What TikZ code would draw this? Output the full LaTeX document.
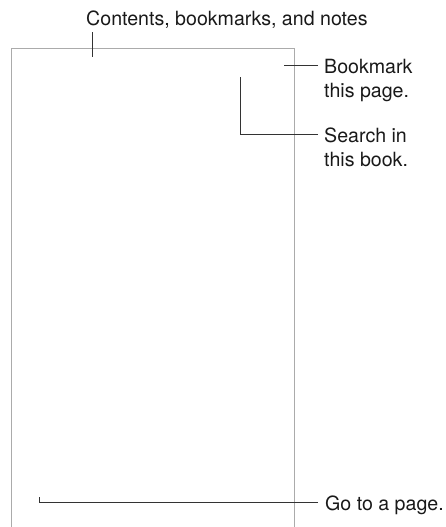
\documentclass[tikz,border=0pt]{standalone}
\usepackage{fontspec}
\setmainfont{TeX Gyre Heros}
\begin{document}
\begin{tikzpicture}[x=1pt,y=-1pt,
  frame/.style={draw=black!33, line width=1pt},
  leader/.style={draw=black!80, line width=1pt},
  lbl/.style={inner sep=0pt, anchor=base west, align=left, font=\fontsize{19.6}{24.3}\selectfont, text=black!90}]
\useasboundingbox (0,0) rectangle (446,527);
% screen frame (open at bottom)
\draw[frame] (11,527) -- (11,48.5) -- (294,48.5) -- (294,527);
% labels (base anchor = baseline of last line)
\node[lbl] (contents) at (86,26) {Contents, bookmarks, and notes};
\node[lbl] (bookmark) at (324,97.3) {Bookmark\\this page.};
\node[lbl] (search) at (324,166.5) {Search in\\this book.};
\node[lbl] (goto) at (325,510) {Go to a page.};
% targets
\coordinate (cT) at (92,57);
\coordinate (cS) at (92,32.5);
\coordinate (bT) at (284,66);
\coordinate (bS) at (318,66);
\coordinate (sT) at (240.5,77);
\coordinate (sK) at (240.5,134);
\coordinate (sS) at (318,134);
\coordinate (gT) at (39,497);
\coordinate (gK) at (39,502);
\coordinate (gS) at (318,502);
% leaders
\draw[leader] (cS) -- (cT);
\draw[leader] (bS) -- (bT);
\draw[leader] (sS) -- (sK) -- (sT);
\draw[leader] (gS) -- (gK) -- (gT);
\end{tikzpicture}
\end{document}
